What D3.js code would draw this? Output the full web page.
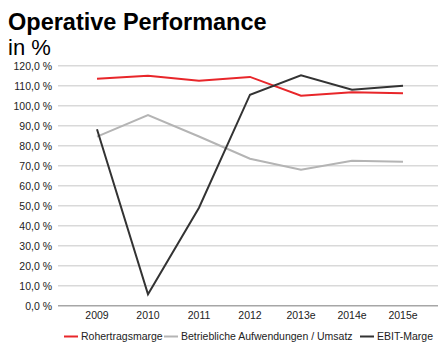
<!DOCTYPE html>
<html>
<head>
<meta charset="utf-8">
<script src="https://cdn.jsdelivr.net/npm/d3@7"></script>
<style>
  body { margin: 0; background: #fff; }
  svg { display: block; font-family: "Liberation Sans", Arial, sans-serif; }
</style>
</head>
<body>
<svg width="438" height="343"></svg>
<script>
// chart data
const years = ["2009", "2010", "2011", "2012", "2013e", "2014e", "2015e"];
const rohertrag = [113.5, 115, 112.5, 114.4, 105, 106.7, 106.2];
const aufwendungen = [84.5, 95.3, 84.6, 73.5, 68, 72.5, 72];
const ebit = [88.2, 5.7, 49, 105.5, 115.2, 108, 110];
const yTicks = [0, 10, 20, 30, 40, 50, 60, 70, 80, 90, 100, 110, 120];

const series = [
  { name: "Rohertragsmarge", values: rohertrag, color: "#e8262a" },
  { name: "Betriebliche Aufwendungen / Umsatz", values: aufwendungen, color: "#b4b4b4" },
  { name: "EBIT-Marge", values: ebit, color: "#333333" }
];

const svg = d3.select("svg");

var x = d3.scalePoint().domain(years).range([97, 403]);
var y = d3.scaleLinear().domain([0, 120]).range([305.7, 65.7]);

// titles
svg.append("text").attr("x", 8).attr("y", 30)
  .attr("font-size", 23.5).attr("font-weight", "bold").attr("fill", "#000")
  .text("Operative Performance");
svg.append("text").attr("x", 8).attr("y", 55)
  .attr("font-size", 22).attr("fill", "#000")
  .text("in %");

// gridlines + labels
const grid = svg.append("g");
grid.selectAll("line").data(yTicks).enter().append("line")
  .attr("x1", 58).attr("x2", 438)
  .attr("y1", (d) => y(d)).attr("y2", (d) => y(d))
  .attr("stroke", (d) => d == 0 ? "#a6a6a6" : "#d9d9d9")
  .attr("stroke-width", 1.5);
grid.selectAll("text").data(yTicks).enter().append("text")
  .attr("x", 52).attr("y", (d) => y(d) + 3.8)
  .attr("text-anchor", "end").attr("font-size", 10.5).attr("fill", "#222")
  .text((d) => d.toFixed(1).replace(".", ",") + " %");

// category labels
svg.append("g").selectAll("text").data(years).enter().append("text")
  .attr("x", (d) => x(d)).attr("y", 318.5)
  .attr("text-anchor", "middle").attr("font-size", 10.5).attr("fill", "#222")
  .text((d) => d);

// lines
var line = d3.line().x((d, i) => x(years[i])).y((d) => y(d));
svg.append("g").selectAll("path").data(series).enter().append("path")
  .attr("d", (d) => line(d.values))
  .attr("fill", "none")
  .attr("stroke", (d) => d.color)
  .attr("stroke-width", 2);

// legend
const legendX = [64, 164, 360];
const legend = svg.append("g").selectAll("g").data(series).enter().append("g")
  .attr("transform", (d, i) => "translate(" + legendX[i] + ",336.5)");
legend.append("line").attr("x1", 0).attr("x2", 14).attr("y1", 0).attr("y2", 0)
  .attr("stroke", (d) => d.color).attr("stroke-width", 2);
legend.append("text").attr("x", 17).attr("y", 3.5)
  .attr("font-size", 10.5).attr("fill", "#222")
  .text((d) => d.name);
</script>
</body>
</html>
